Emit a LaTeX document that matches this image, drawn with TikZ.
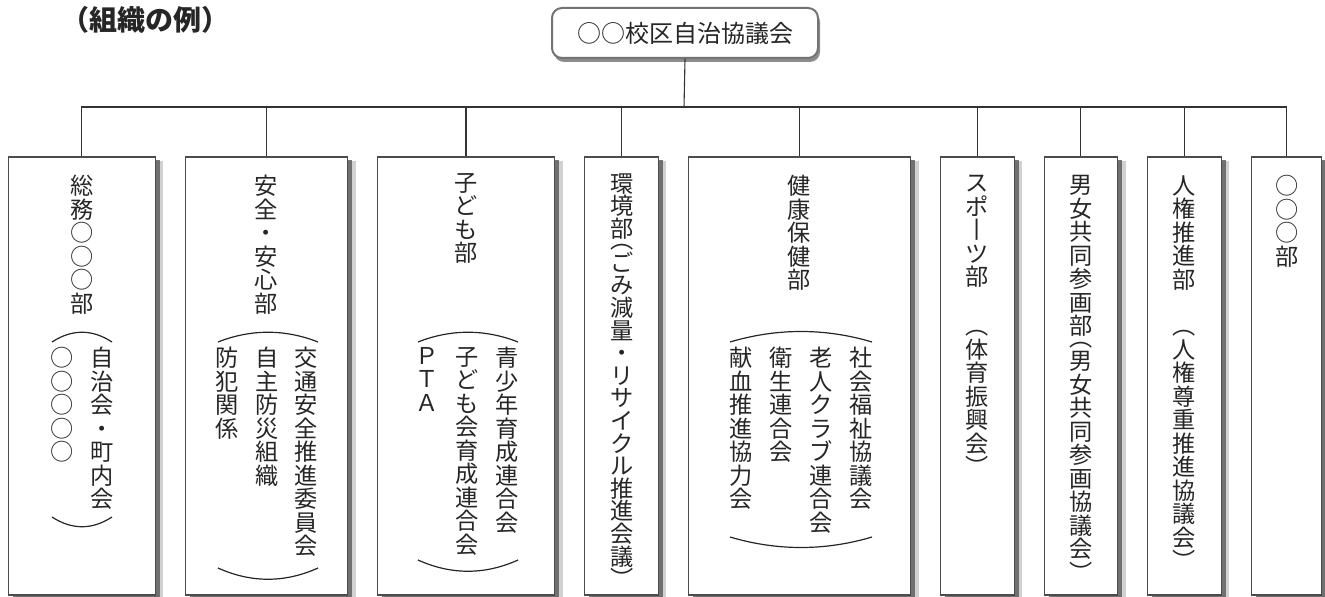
\documentclass[tikz,border=0pt]{standalone}
\usepackage{fontspec}
\newfontfamily\cjk{Noto Sans CJK JP}
\usetikzlibrary{shadows}

\newcommand{\tatefont}{\cjk\fontsize{11.6pt}{11.75pt}\selectfont}

\begin{document}
\begin{tikzpicture}
[x=0.5pt,y=-0.5pt,font=\tatefont,text=black!85]
\tikzstyle{dept}=[rectangle, draw=black!70, line width=0.6pt, fill=white, minimum height=219pt, inner sep=0pt,
  drop shadow={shadow xshift=4pt, shadow yshift=-2pt, fill=black!30, opacity=0.6},
  drop shadow={shadow xshift=2.2pt, shadow yshift=-1.5pt, fill=black!65, opacity=0.8}]
\tikzstyle{head}=[rectangle, rounded corners=5pt, draw=black!55, line width=1pt, fill=white, minimum width=133pt, minimum height=25pt,
  font=\cjk\fontsize{12pt}{14pt}\selectfont, drop shadow={shadow xshift=1pt, shadow yshift=-2pt, fill=black!50, opacity=0.9}]
\tikzstyle{tate}=[anchor=north, align=center, inner sep=0pt]
\tikzstyle{conn}=[draw=black!80, line width=0.55pt]
\tikzstyle{kakko}=[draw=black!85, line width=0.6pt]

\useasboundingbox (0,0) rectangle (1325,597);

% title and top
\node[font=\cjk\bfseries\fontsize{14pt}{16pt}\selectfont] (title) at (145,20) {（組織の例）};
\node[head] (top) at (685,33) {○○校区自治協議会};

% departments
\node[dept, minimum width=73.5pt] (b1) at (81.8,376) {};
\node[dept, minimum width=81.2pt] (b2) at (266.5,376) {};
\node[dept, minimum width=88.7pt] (b3) at (466,376) {};
\node[dept, minimum width=37pt] (b4) at (621.3,376) {};
\node[dept, minimum width=111.2pt] (b5) at (799.5,376) {};
\node[dept, minimum width=37pt] (b6) at (977.3,376) {};
\node[dept, minimum width=36.8pt] (b7) at (1080.9,376) {};
\node[dept, minimum width=36.8pt] (b8) at (1184.5,376) {};
\node[dept, minimum width=35.2pt] (b9) at (1286.5,376) {};

\coordinate (bus) at (684,107);
\path[conn] (top.south) edge (bus)
  (bus) edge[to path={-| (\tikztotarget)}] (b1.north)
  (bus) edge[to path={-| (\tikztotarget)}] (b2.north)
  (bus) edge[to path={-| (\tikztotarget)}] (b3.north)
  (bus) edge[to path={-| (\tikztotarget)}] (b4.north)
  (bus) edge[to path={-| (\tikztotarget)}] (b5.north)
  (bus) edge[to path={-| (\tikztotarget)}] (b6.north)
  (bus) edge[to path={-| (\tikztotarget)}] (b7.north)
  (bus) edge[to path={-| (\tikztotarget)}] (b8.north)
  (bus) edge[to path={-| (\tikztotarget)}] (b9.north);

% box 1
\node[tate] (s1) at (82,175) {総\\務\\○\\○\\○\\部};
\node[tate] (s1a) at (102,347) {自\\治\\会\\・\\町\\内\\会};
\node[tate] (s1b) at (62,347) {○\\○\\○\\○\\○};
\draw[kakko] (52,342) .. controls (72,329) and (92,329) .. (112,342);
\draw[kakko] (52,517) .. controls (72,530) and (92,530) .. (112,517);

% box 2
\node[tate] (s2) at (266,175) {安\\全\\・\\安\\心\\部};
\node[tate] (s2a) at (306,347) {交\\通\\安\\全\\推\\進\\委\\員\\会};
\node[tate] (s2b) at (267,347) {自\\主\\防\\災\\組\\織};
\node[tate] (s2c) at (227,347) {防\\犯\\関\\係};
\draw[kakko] (218,342) .. controls (251,329) and (285,329) .. (318,342);
\draw[kakko] (218,568) .. controls (251,583) and (285,583) .. (318,568);

% box 3
\node[tate] (s3) at (466,173) {子\\ど\\も\\部};
\node[tate] (s3a) at (507,347) {青\\少\\年\\育\\成\\連\\合\\会};
\node[tate] (s3b) at (467,347) {子\\ど\\も\\会\\育\\成\\連\\合\\会};
\node[tate] (s3c) at (427,347) {Ｐ\\Ｔ\\Ａ};
\draw[kakko] (418,342) .. controls (451,329) and (485,329) .. (518,342);
\draw[kakko] (418,560) .. controls (451,575) and (485,575) .. (518,560);

% box 4
\node[tate, font=\cjk\fontsize{11.6pt}{11.3pt}\selectfont] (s4) at (622,173)
  {環\\境\\部\\[-5.6pt]︵\\ご\\み\\減\\量\\・\\リ\\サ\\イ\\ク\\ル\\推\\進\\会\\議\\︶};

% box 5
\node[tate] (s5) at (799,175) {健\\康\\保\\健\\部};
\node[tate] (s5a) at (861,347) {社\\会\\福\\祉\\協\\議\\会};
\node[tate] (s5b) at (821,347) {老\\人\\ク\\ラ\\ブ\\連\\合\\会};
\node[tate] (s5c) at (781,347) {衛\\生\\連\\合\\会};
\node[tate] (s5d) at (741,347) {献\\血\\推\\進\\協\\力\\会};
\draw[kakko] (730,342) .. controls (777,328) and (825,328) .. (872,342);
\draw[kakko] (730,537) .. controls (777,551) and (825,551) .. (872,537);

% box 6
\node[tate] (s6) at (977,175) {ス\\ポ\\丨\\ツ\\部};
\node[tate] (s6a) at (977,330) {︵\\体\\育\\振\\興\\会\\︶};

% box 7
\node[tate] (s7) at (1081,175)
  {男\\女\\共\\同\\参\\画\\部\\[-5.9pt]︵\\男\\女\\共\\同\\参\\画\\協\\議\\会\\︶};

% box 8
\node[tate] (s8) at (1184,175) {人\\権\\推\\進\\部};
\node[tate] (s8a) at (1184,330) {︵\\人\\権\\尊\\重\\推\\進\\協\\議\\会\\︶};

% box 9
\node[tate] (s9) at (1287,175) {○\\○\\○\\部};
\end{tikzpicture}
\end{document}
